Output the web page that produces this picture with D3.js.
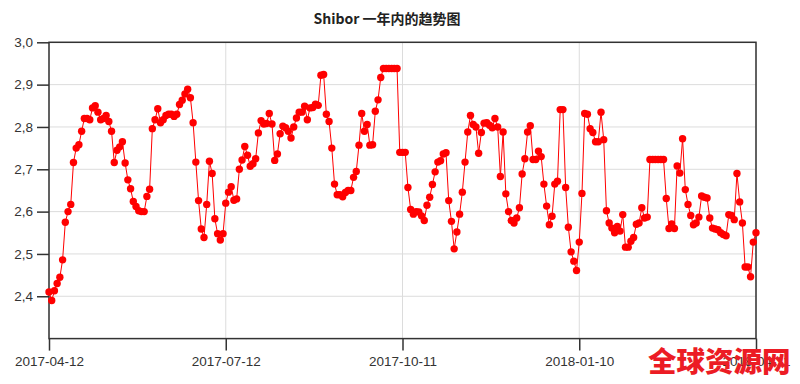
<!DOCTYPE html>
<html lang="zh">
  <head>
    <meta charset="UTF-8" />
    <title>Shibor 一年内的趋势图</title>
    <style>
      body {
        margin: 0;
        background: #fff;
      }
      text {
        font-family: 'Liberation Sans', Arial, sans-serif;
      }
    </style>
  </head>
  <body>
    <div id="main"></div>
    <script src="https://cdn.jsdelivr.net/npm/d3@7"></script>
    <script>
      const title = 'Shibor 一年内的趋势图'
      const watermark = '全球资源网'
      const startDate = '2017-04-12'
      const endDate = '2018-04-11'
      const xTickLabels = ['2017-04-12', '2017-07-12', '2017-10-11', '2018-01-10', '2018-04-11']
      const yTicks = [2.4, 2.5, 2.6, 2.7, 2.8, 2.9, 3.0]
      // one value per working day
      const shibor = [
        2.41, 2.39, 2.413, 2.43, 2.445, 2.486, 2.575, 2.6, 2.617, 2.716,
        2.75, 2.758, 2.79, 2.82, 2.82, 2.817, 2.845, 2.85, 2.835, 2.817,
        2.82, 2.827, 2.813, 2.79, 2.716, 2.745, 2.753, 2.765, 2.715, 2.675,
        2.654, 2.624, 2.612, 2.602, 2.6, 2.6, 2.636, 2.653, 2.796, 2.817,
        2.843, 2.81, 2.817, 2.827, 2.83, 2.83, 2.825, 2.83, 2.853, 2.863,
        2.878, 2.889, 2.869, 2.81, 2.717, 2.626, 2.559, 2.539, 2.617, 2.719,
        2.69, 2.583, 2.548, 2.533, 2.548, 2.62, 2.646, 2.659, 2.627, 2.63,
        2.7, 2.722, 2.754, 2.733, 2.707, 2.713, 2.725, 2.786, 2.815, 2.807,
        2.808, 2.832, 2.807, 2.721, 2.736, 2.784, 2.802, 2.798, 2.79, 2.774,
        2.8, 2.821, 2.835, 2.835, 2.849, 2.817, 2.845, 2.846, 2.854, 2.851,
        2.922, 2.924, 2.83, 2.813, 2.75, 2.665, 2.64, 2.64, 2.635, 2.645,
        2.65, 2.65, 2.681, 2.695, 2.757, 2.832, 2.79, 2.806, 2.757, 2.758,
        2.837, 2.864, 2.917, 2.938, 2.938, 2.938, 2.938, 2.938, 2.938, 2.74,
        2.74, 2.74, 2.657, 2.605, 2.594, 2.6, 2.599, 2.59, 2.579, 2.615,
        2.634, 2.664, 2.694, 2.717, 2.72, 2.736, 2.739, 2.626, 2.577, 2.512,
        2.552, 2.594, 2.646, 2.717, 2.788, 2.827, 2.806, 2.8, 2.738, 2.787,
        2.809, 2.81, 2.804, 2.798, 2.82, 2.8, 2.683, 2.788, 2.642, 2.6,
        2.579, 2.573, 2.585, 2.609, 2.689, 2.725, 2.788, 2.803, 2.723, 2.723,
        2.743, 2.73, 2.665, 2.613, 2.569, 2.589, 2.665, 2.672, 2.841, 2.841,
        2.657, 2.563, 2.505, 2.483, 2.461, 2.528, 2.643, 2.832, 2.83, 2.796,
        2.787, 2.765, 2.765, 2.835, 2.77, 2.602, 2.573, 2.561, 2.55, 2.565,
        2.554, 2.593, 2.516, 2.516, 2.53, 2.539, 2.57, 2.573, 2.609, 2.585,
        2.587, 2.723, 2.723, 2.723, 2.723, 2.723, 2.723, 2.631, 2.56, 2.571,
        2.56, 2.708, 2.691, 2.772, 2.652, 2.617, 2.591, 2.569, 2.573, 2.587,
        2.637, 2.634, 2.632, 2.585, 2.561, 2.559, 2.557, 2.55, 2.546, 2.543,
        2.593, 2.591, 2.581, 2.69, 2.623, 2.573, 2.469, 2.469, 2.446, 2.528, 2.55
      ]

      const [width, height] = [800, 384]
      const plot = { left: 49, right: 756, top: 42.3, bottom: 338.6 }

      const fmtDate = d3.timeFormat('%Y-%m-%d')
      const parseDate = d3.timeParse('%Y-%m-%d')
      // working days between the first and last date
      const dates = d3.timeDay
        .range(parseDate(startDate), d3.timeDay.offset(parseDate(endDate), 1))
        .filter(d => d.getDay() !== 0 && d.getDay() !== 6)
        .map(fmtDate)
      const data = dates.map((d, i) => ({ date: d, value: shibor[i] }))

      const svg = d3
        .select('#main')
        .append('svg')
        .attr('width', width)
        .attr('height', height)
        .attr('viewBox', `0 0 ${width} ${height}`)

      const xScale = d3.scalePoint().domain(dates).range([plot.left, plot.right])
      const yScale = d3.scaleLinear().domain([2.3, 3.0]).range([plot.bottom, plot.top])

      const commaLocale = d3.formatLocale({
        decimal: ',',
        thousands: '.',
        grouping: [3],
        currency: ['', '']
      })
      const yFormat = commaLocale.format('.1f')

      // 网格
      const grid = svg.append('g').attr('stroke', '#dcdcdc').attr('stroke-width', 1)
      grid
        .selectAll('.hgrid')
        .data(yTicks)
        .join('line')
        .attr('x1', plot.left)
        .attr('x2', plot.right)
        .attr('y1', d => yScale(d))
        .attr('y2', d => yScale(d))
      grid
        .selectAll('.vgrid')
        .data(xTickLabels)
        .join('line')
        .attr('x1', d => xScale(d))
        .attr('x2', d => xScale(d))
        .attr('y1', plot.top)
        .attr('y2', plot.bottom)

      // 坐标轴
      const yAxis = svg
        .append('g')
        .attr('transform', `translate(${plot.left}, 0)`)
        .call(d3.axisLeft(yScale).tickValues(yTicks).tickSize(12).tickPadding(4).tickFormat(yFormat))
      yAxis.select('.domain').remove()
      yAxis.selectAll('line').attr('stroke', '#333').attr('stroke-width', 1.5)
      yAxis.selectAll('text').style('font-size', '13.5px').attr('fill', '#333')

      const xAxis = svg
        .append('g')
        .attr('transform', `translate(0, ${plot.bottom})`)
        .call(d3.axisBottom(xScale).tickValues(xTickLabels).tickSize(12).tickPadding(6))
      xAxis.select('.domain').remove()
      xAxis.selectAll('line').attr('stroke', '#333').attr('stroke-width', 1.5)
      xAxis.selectAll('text').style('font-size', '13.5px').attr('fill', '#333')

      svg
        .append('rect')
        .attr('x', plot.left)
        .attr('y', plot.top)
        .attr('width', plot.right - plot.left)
        .attr('height', plot.bottom - plot.top)
        .attr('fill', 'none')
        .attr('stroke', '#333')
        .attr('stroke-width', 1.5)

      // 折线 + 点
      const line = d3
        .line()
        .x(d => xScale(d.date))
        .y(d => yScale(d.value))
      svg
        .append('path')
        .datum(data)
        .attr('d', line)
        .attr('fill', 'none')
        .attr('stroke', '#f00')
        .attr('stroke-width', 1)

      svg
        .append('g')
        .attr('fill', '#f00')
        .selectAll('circle')
        .data(data)
        .join('circle')
        .attr('cx', d => xScale(d.date))
        .attr('cy', d => yScale(d.value))
        .attr('r', 3.7)

      svg
        .append('text')
        .attr('x', 387)
        .attr('y', 24)
        .attr('text-anchor', 'middle')
        .style('font-family', "'Noto Sans CJK SC', sans-serif")
        .style('font-size', '14px')
        .style('font-weight', 'bold')
        .attr('fill', '#222')
        .text(title)

      // watermark drawn over the last date label, as in the source image
      svg
        .append('text')
        .attr('x', 648)
        .attr('y', 372)
        .style('font-family', "'Noto Sans CJK SC', sans-serif")
        .style('font-size', '28.5px')
        .style('font-weight', 900)
        .attr('fill', '#ec1c24')
        .text(watermark)
    </script>
  </body>
</html>
